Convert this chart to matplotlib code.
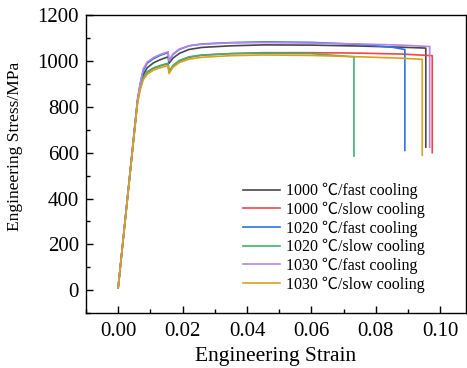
import matplotlib
matplotlib.use("Agg")
import matplotlib.pyplot as plt
from matplotlib.ticker import MultipleLocator

plt.rcParams['font.family'] = ['Liberation Serif', 'Noto Sans CJK SC', 'DejaVu Sans']

labels = ["1000 \u2103/fast cooling", "1000 \u2103/slow cooling",
          "1020 \u2103/fast cooling", "1020 \u2103/slow cooling",
          "1030 \u2103/fast cooling", "1030 \u2103/slow cooling"]
colors = ["#484848", "#f2444a", "#2f74e0", "#3db36f", "#b684ea", "#d9a21a"]

# strain / stress points
strain_1000_fast = [0, 0.006, 0.0068, 0.0078, 0.009, 0.011, 0.013, 0.0155, 0.0158, 0.017, 0.019, 0.022, 0.026, 0.035, 0.045, 0.060, 0.075, 0.088, 0.0955, 0.0955]
stress_1000_fast = [10, 825, 885, 940, 970, 992, 1005, 1018, 990, 1012, 1033, 1050, 1059, 1066, 1070, 1069, 1065, 1060, 1056, 624]

strain_1000_slow = [0, 0.006, 0.0068, 0.0078, 0.009, 0.011, 0.013, 0.0155, 0.0158, 0.017, 0.019, 0.022, 0.026, 0.035, 0.045, 0.060, 0.075, 0.088, 0.0975, 0.0975]
stress_1000_slow = [10, 820, 880, 925, 950, 968, 978, 988, 950, 978, 1000, 1016, 1025, 1032, 1036, 1036, 1034, 1030, 1023, 600]

strain_1020_fast = [0, 0.006, 0.0068, 0.0078, 0.009, 0.011, 0.013, 0.0155, 0.0158, 0.017, 0.019, 0.022, 0.026, 0.035, 0.045, 0.060, 0.075, 0.085, 0.089, 0.089]
stress_1020_fast = [10, 828, 895, 958, 990, 1010, 1024, 1037, 998, 1028, 1050, 1066, 1074, 1080, 1083, 1081, 1072, 1060, 1050, 610]

strain_1020_slow = [0, 0.006, 0.0068, 0.0078, 0.009, 0.011, 0.013, 0.0155, 0.0158, 0.017, 0.019, 0.022, 0.026, 0.035, 0.045, 0.060, 0.0732, 0.0732]
stress_1020_slow = [10, 820, 882, 928, 953, 970, 980, 990, 952, 980, 1002, 1018, 1026, 1032, 1034, 1032, 1018, 585]

strain_1030_fast = [0, 0.006, 0.0068, 0.0078, 0.009, 0.011, 0.013, 0.0155, 0.0158, 0.017, 0.019, 0.022, 0.026, 0.035, 0.045, 0.060, 0.075, 0.088, 0.0967, 0.0967]
stress_1030_fast = [10, 830, 900, 965, 995, 1015, 1028, 1040, 1000, 1030, 1052, 1066, 1073, 1079, 1080, 1078, 1074, 1069, 1063, 624]

strain_1030_slow = [0, 0.006, 0.0068, 0.0078, 0.009, 0.011, 0.013, 0.0155, 0.0158, 0.017, 0.019, 0.022, 0.026, 0.035, 0.045, 0.060, 0.075, 0.088, 0.0944, 0.0944]
stress_1030_slow = [10, 815, 872, 918, 942, 960, 970, 980, 945, 972, 993, 1008, 1016, 1023, 1026, 1024, 1018, 1012, 1007, 589]

strains = [strain_1000_fast, strain_1000_slow, strain_1020_fast, strain_1020_slow, strain_1030_fast, strain_1030_slow]
stresses = [stress_1000_fast, stress_1000_slow, stress_1020_fast, stress_1020_slow, stress_1030_fast, stress_1030_slow]

fig = plt.figure(figsize=(4.67, 3.68), dpi=100)
ax = fig.add_axes([0.184, 0.149, 0.814, 0.810])

for x, y, c, l in zip(strains, stresses, colors, labels):
    ax.plot(x, y, color=c, lw=1.2, label=l)

ax.set_xlim(-0.01, 0.108)
ax.set_ylim(-100, 1200)
ax.xaxis.set_minor_locator(MultipleLocator(0.01))
ax.yaxis.set_major_locator(MultipleLocator(200))
ax.yaxis.set_minor_locator(MultipleLocator(100))
ax.set_xticks([0, 0.02, 0.04, 0.06, 0.08, 0.10])
ax.set_xticklabels(["0.00", "0.02", "0.04", "0.06", "0.08", "0.10"])
ax.tick_params(which='both', direction='in', top=False, right=False, labelsize=15)
ax.tick_params(axis='x', which='major', pad=6)
ax.tick_params(axis='y', which='major', pad=5)
ax.tick_params(which='major', length=5, width=1)
ax.tick_params(which='minor', length=3, width=1)
for s in ax.spines.values():
    s.set_linewidth(1.0)

ax.set_xlabel("Engineering Strain", fontsize=15.5, labelpad=5)
ax.set_ylabel("Engineering Stress/MPa", fontsize=12.5)
ax.yaxis.set_label_coords(-0.166, 0.56)

ax.legend(loc='upper left', bbox_to_anchor=(0.414, 0.437), frameon=False, fontsize=11.5,
          handlelength=2.3, labelspacing=0.15, handletextpad=0.4,
          borderpad=0, borderaxespad=0)

fig.savefig("out.png", dpi=100)
